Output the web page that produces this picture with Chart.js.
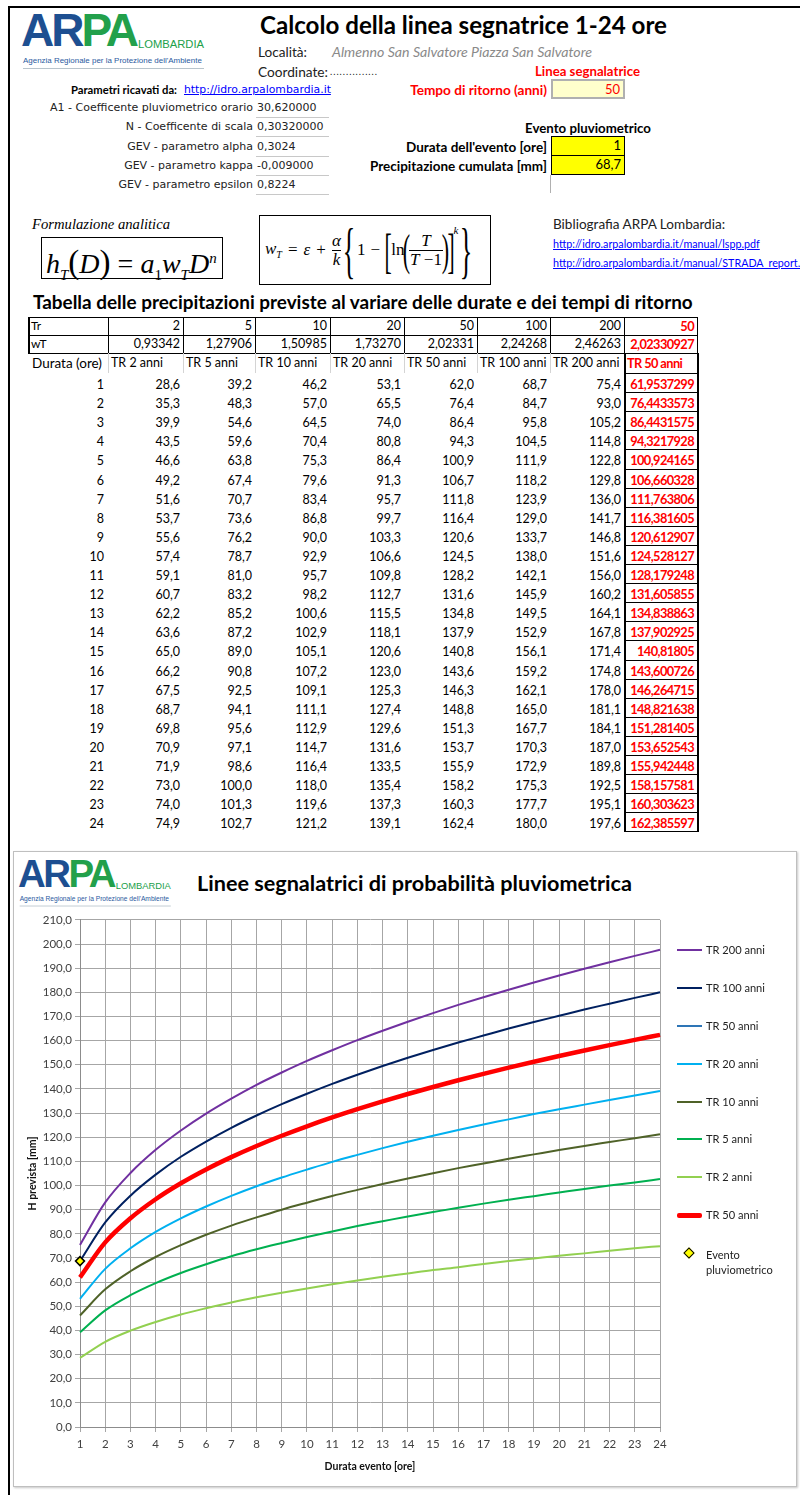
<!DOCTYPE html>
<html>
<head>
<meta charset="utf-8">
<script src="https://cdn.jsdelivr.net/npm/chart.js@4.4.1/dist/chart.umd.min.js"></script>
<style>
body{margin:0;width:800px;height:1495px;overflow:hidden;background:#fff;position:relative;font-family:Lato,"Open Sans",sans-serif;color:#000}
.a{position:absolute;white-space:nowrap}
.c{position:absolute;box-sizing:border-box;white-space:nowrap;overflow:hidden}
.logo{position:absolute;width:190px;height:60px;transform-origin:0 0}
.logo .big{position:absolute;left:0;top:-9px;font-family:"Liberation Sans",sans-serif;font-weight:bold;font-size:46px;letter-spacing:-3px;line-height:56px}
.logo .lomb{position:absolute;left:117px;top:27px;font-family:"Liberation Sans",sans-serif;font-size:9.5px;line-height:12px;color:#22a04b}
.logo .sub{position:absolute;left:2px;top:45px;font-family:"Liberation Sans",sans-serif;font-size:7.3px;line-height:10px;color:#2a5aa0}
.logo .rule{position:absolute;left:2px;top:57px;width:181px;height:1px;background:#b8c4cc}
.par{font-family:"DejaVu Sans",sans-serif;font-size:10.5px;color:#222;line-height:14px}
.lnk{color:#0000ff;text-decoration:underline}
.b{font-weight:bold}
.red{color:#ff0000}
.t16{line-height:16px;font-size:13px}
.box{position:absolute;box-sizing:border-box;text-align:right;padding-right:3px;font-size:13px;line-height:17px}
.serif{font-family:"Liberation Serif",serif}
.frac{display:inline-flex;flex-direction:column;align-items:center;vertical-align:middle;line-height:1.05}
.frac>span:last-child{border-top:1px solid #000;padding:0 1px}
.dl{display:inline-block;vertical-align:middle}
.leg{position:absolute;font-size:11.5px;color:#222;line-height:14px}
.legline{position:absolute}
</style>
</head>
<body>
<!-- cornice del foglio -->
<div class="a" style="left:8px;top:6px;width:792px;height:1489px;border-left:2px solid #000;border-top:2px solid #000"></div>

<div class="logo" id="logo1" style="left:21px;top:11px">
  <div class="big"><span style="color:#1d4f91">AR</span><span style="color:#22a04b">PA</span></div>
  <div class="lomb" data-w="66">LOMBARDIA</div>
  <div class="sub" data-w="179">Agenzia Regionale per la Protezione dell'Ambiente</div>
  <div class="rule"></div>
</div>

<div class="a b" data-w="407" style="left:260px;top:11px;font-size:24px;line-height:28px">Calcolo della linea segnatrice 1-24 ore</div>
<div class="a t16" data-w="49" style="left:258px;top:44px;color:#222">Località:</div>
<div class="a t16" data-w="260" style="left:332px;top:44px;color:#8a8a8a;font-style:italic">Almenno San Salvatore Piazza San Salvatore</div>
<div class="a t16" data-w="70" style="left:258px;top:64px;color:#222">Coordinate:</div>
<div class="a" data-w="48" style="left:330px;top:64px;line-height:16px;font-size:9px;letter-spacing:1px;color:#222">...............</div>
<div class="a b red t16" data-w="105" style="left:535px;top:63px">Linea segnalatrice</div>

<div class="a b" data-w="106" style="left:71px;top:83px;font-size:10px;line-height:14px">Parametri ricavati da:</div>
<div class="a par lnk" data-w="147" style="left:184px;top:83px">http://idro.arpalombardia.it</div>
<div class="a b red t16" data-w="137" style="right:253px;top:82px">Tempo di ritorno (anni)</div>
<div class="box red" style="left:551px;top:79px;width:74px;height:20px;background:#ffffcc;border:2px solid #b0b0b0" id="trSel"></div>

<div id="parametri"></div>

<div class="a b t16" data-w="126" style="left:525px;top:120px">Evento pluviometrico</div>
<div class="a b t16" data-w="141" style="right:253px;top:139px">Durata dell'evento [ore]</div>
<div class="a b t16" data-w="177" style="right:253px;top:158px">Precipitazione cumulata [mm]</div>
<div class="box" style="left:551px;top:136px;width:74px;height:20px;background:#ffff00;border:1px solid #000" id="durEv"></div>
<div class="box" style="left:551px;top:155px;width:74px;height:20px;background:#ffff00;border:1px solid #000" id="pioEv"></div>
<div class="a" style="left:550px;top:175px;width:1px;height:18px;background:#b0b0b0"></div>

<div class="a serif" data-w="138" style="left:32px;top:216px;font-size:13.5px;line-height:16px;font-style:italic">Formulazione analitica</div>
<div class="a serif" style="left:41px;top:237px;width:182px;height:42px;box-sizing:border-box;border:1px solid #000;font-size:28px;line-height:40px;font-style:italic;padding-left:4px">h<sub style="font-size:15px">T</sub><span style="font-style:normal;font-size:33px">(</span>D<span style="font-style:normal;font-size:33px">)</span><span style="font-style:normal"> = </span>a<sub style="font-size:15px;font-style:normal">1</sub>w<sub style="font-size:15px">T</sub>D<sup style="font-size:15px">n</sup></div>

<div class="a serif" style="left:259px;top:215px;width:232px;height:70px;box-sizing:border-box;border:1px solid #000;font-size:17px;display:flex;align-items:center;padding-left:5px">
  <span><i>w</i><sub style="font-size:10px"><i>T</i></sub></span>
  <span style="margin:0 6px">=</span>
  <i>ε</i>
  <span style="margin:0 6px">+</span>
  <span class="frac"><span><i>α</i></span><span><i>k</i></span></span>
  <span class="dl" style="font-size:62px;transform:scaleX(.42);margin:0 -7px;line-height:64px">{</span>
  <span>1</span><span style="margin:0 5px">−</span>
  <span class="dl" style="font-size:48px;transform:scaleX(.45);margin:0 -5px">[</span>
  <span>ln</span>
  <span class="dl" style="font-size:44px;transform:scaleX(.5);margin:0 -5px">(</span>
  <span class="frac"><span><i>T</i></span><span><i>T</i> −1</span></span>
  <span class="dl" style="font-size:44px;transform:scaleX(.5);margin:0 -5px">)</span>
  <span class="dl" style="font-size:48px;transform:scaleX(.45);margin:0 -5px">]</span>
  <sup style="font-size:11px;align-self:flex-start;margin-top:8px"><i>k</i></sup>
  <span class="dl" style="font-size:62px;transform:scaleX(.42);margin:0 -7px;line-height:64px">}</span>
</div>

<div class="a t16" data-w="172" style="left:553px;top:216px;color:#222">Bibliografia ARPA Lombardia:</div>
<div class="a lnk" data-w="207" style="left:553px;top:238px;font-size:10px;line-height:12px">http://idro.arpalombardia.it/manual/lspp.pdf</div>
<div class="a lnk" id="link2" style="left:553px;top:257px;font-size:10px;line-height:12px">http://idro.arpalombardia.it/manual/STRADA_report.pdf</div>

<div class="a b" data-w="660" style="left:33px;top:291px;font-size:18px;line-height:22px">Tabella delle precipitazioni previste al variare delle durate e dei tempi di ritorno</div>
<div id="tabella"></div>

<!-- riquadro grafico -->
<div class="a" style="left:13px;top:851px;width:784px;height:636px;box-sizing:border-box;border:1px solid #bfbfbf;box-shadow:1px 1px 2px #c8c8c8"></div>
<div id="logo2box"></div>
<div class="a b" data-w="435" style="left:197px;top:871px;font-size:21px;line-height:24px">Linee segnalatrici di probabilità pluviometrica</div>
<canvas id="grafico" width="782" height="575" style="position:absolute;left:14px;top:910px"></canvas>
<div id="legenda"></div>

<script>
const durate = [1, 2, 3, 4, 5, 6, 7, 8, 9, 10, 11, 12, 13, 14, 15, 16, 17, 18, 19, 20, 21, 22, 23, 24];
const tempiRitorno = [2, 5, 10, 20, 50, 100, 200];
const wT = ['0,93342', '1,27906', '1,50985', '1,73270', '2,02331', '2,24268', '2,46263'];

const tr2 = [28.6, 35.3, 39.9, 43.5, 46.6, 49.2, 51.6, 53.7, 55.6, 57.4, 59.1, 60.7, 62.2, 63.6, 65.0, 66.2, 67.5, 68.7, 69.8, 70.9, 71.9, 73.0, 74.0, 74.9];
const tr5 = [39.2, 48.3, 54.6, 59.6, 63.8, 67.4, 70.7, 73.6, 76.2, 78.7, 81.0, 83.2, 85.2, 87.2, 89.0, 90.8, 92.5, 94.1, 95.6, 97.1, 98.6, 100.0, 101.3, 102.7];
const tr10 = [46.2, 57.0, 64.5, 70.4, 75.3, 79.6, 83.4, 86.8, 90.0, 92.9, 95.7, 98.2, 100.6, 102.9, 105.1, 107.2, 109.1, 111.1, 112.9, 114.7, 116.4, 118.0, 119.6, 121.2];
const tr20 = [53.1, 65.5, 74.0, 80.8, 86.4, 91.3, 95.7, 99.7, 103.3, 106.6, 109.8, 112.7, 115.5, 118.1, 120.6, 123.0, 125.3, 127.4, 129.6, 131.6, 133.5, 135.4, 137.3, 139.1];
const tr50 = [62.0, 76.4, 86.4, 94.3, 100.9, 106.7, 111.8, 116.4, 120.6, 124.5, 128.2, 131.6, 134.8, 137.9, 140.8, 143.6, 146.3, 148.8, 151.3, 153.7, 155.9, 158.2, 160.3, 162.4];
const tr100 = [68.7, 84.7, 95.8, 104.5, 111.9, 118.2, 123.9, 129.0, 133.7, 138.0, 142.1, 145.9, 149.5, 152.9, 156.1, 159.2, 162.1, 165.0, 167.7, 170.3, 172.9, 175.3, 177.7, 180.0];
const tr200 = [75.4, 93.0, 105.2, 114.8, 122.8, 129.8, 136.0, 141.7, 146.8, 151.6, 156.0, 160.2, 164.1, 167.8, 171.4, 174.8, 178.0, 181.1, 184.1, 187.0, 189.8, 192.5, 195.1, 197.6];

// linea segnalatrice scelta (TR 50), valori non arrotondati
const trScelto = 50;
const wTScelto = '2,02330927';
const lineaScelta = [61.9537299, 76.4433573, 86.4431575, 94.3217928, 100.924165, 106.660328, 111.763806, 116.381605, 120.612907, 124.528127, 128.179248, 131.605855, 134.838863, 137.902925, 140.81805, 143.600726, 146.264715, 148.821638, 151.281405, 153.652543, 155.942448, 158.157581, 160.303623, 162.385597];

const durataEvento = 1;
const pioggiaEvento = 68.7;

const parametri = [
    ['A1 - Coefficente pluviometrico orario', '30,620000'],
    ['N - Coefficente di scala', '0,30320000'],
    ['GEV - parametro alpha', '0,3024'],
    ['GEV - parametro kappa', '-0,009000'],
    ['GEV - parametro epsilon', '0,8224']
];

const fmt1 = v => v.toFixed(1).replace('.', ',');

document.getElementById('trSel').textContent = trScelto;
document.getElementById('durEv').textContent = durataEvento;
document.getElementById('pioEv').textContent = fmt1(pioggiaEvento);

// parametri
let h = '';
parametri.forEach((p, i) => {
    const cy = 108 + i * 19.3;
    h += `<div class="a par" ${i === 0 ? 'id="parA1"' : ''} style="right:547px;top:${cy - 7}px">${p[0]}</div>`;
    h += `<div class="a par" style="left:257px;top:${cy - 7}px">${p[1]}</div>`;
    h += `<div class="a" style="left:256px;top:${cy + 9}px;width:73px;height:1px;background:#c8c8c8"></div>`;
});
document.getElementById('parametri').innerHTML = h;

// dimensione dei caratteri della tabella a partire da larghezze campione
const misura = document.createElement('canvas').getContext('2d');
function corpo(testo, peso, larghezza) {
    misura.font = `${peso} 20px Lato`;
    return 20 * larghezza / misura.measureText(testo).width;
}
const fsNorm = corpo('TR 2 anni', 'normal', 52);
const fsDur = corpo('Durata (ore)', 'normal', 70);

// tabella
const colX = [28, 108, 183, 255, 330, 404, 477, 550, 624, 697];
const serie = [tr2, tr5, tr10, tr20, tr50, tr100, tr200];
let t = '';
function cella(c, top, hgt, txt, stile) {
    const w = colX[c + 1] - colX[c];
    t += `<div class="c" style="left:${colX[c]}px;top:${top}px;width:${w}px;height:${hgt}px;line-height:${hgt}px;font-size:${fsNorm}px;${stile || ''}">${txt}</div>`;
}
function lineaH(x1, x2, y, col, sp) {
    t += `<div class="a" style="left:${x1}px;top:${y}px;width:${x2 - x1}px;height:${sp || 1}px;background:${col}"></div>`;
}
function lineaV(x, y1, y2, col, sp) {
    t += `<div class="a" style="left:${x}px;top:${y1}px;width:${sp || 1}px;height:${y2 - y1}px;background:${col}"></div>`;
}
const dx = 'text-align:right;padding-right:3px;';
const rosso = 'color:#f00;font-weight:bold;font-size:12.8px;letter-spacing:-0.6px;';
cella(0, 317, 18, 'Tr', 'padding-left:3px;font-size:12px');
cella(0, 335, 18, 'wT', 'padding-left:3px;font-size:12px');
tempiRitorno.forEach((tr, i) => {
    cella(i + 1, 317, 18, tr, dx);
    cella(i + 1, 335, 18, wT[i], dx);
});
cella(8, 317, 18, trScelto, dx + rosso);
cella(8, 335, 18, wTScelto, dx + rosso);
cella(0, 353, 20, 'Durata (ore)', `padding-left:4px;font-size:${fsDur}px`);
tempiRitorno.forEach((tr, i) => cella(i + 1, 353, 20, 'TR ' + tr + ' anni', 'padding-left:3px'));
cella(8, 353, 20, 'TR ' + trScelto + ' anni', 'padding-left:3px;' + rosso);
const passo = 19.1;
durate.forEach((d, r) => {
    const top = 373 + r * passo;
    cella(0, top, passo, d, 'text-align:right;padding-right:4px;padding-top:2px');
    serie.forEach((s, i) => cella(i + 1, top, passo, fmt1(s[r]), dx + 'padding-top:2px'));
    cella(8, top, passo, String(lineaScelta[r]).replace('.', ','), dx + rosso + 'padding-top:2px');
    lineaH(624, 698, Math.round(top), '#000');
});
lineaH(624, 698, Math.round(373 + 24 * passo), '#000');
[317, 335, 353].forEach(y => lineaH(28, 698, y, '#000'));
colX.forEach(x => lineaV(x, 317, 353, '#000', x === 28 ? 2 : 1));
colX.slice(1, 8).forEach(x => lineaV(x, 353, 373, '#d4d4d4'));
lineaV(624, 353, Math.round(373 + 24 * passo) + 1, '#000', 2);
lineaV(697, 353, Math.round(373 + 24 * passo) + 1, '#000', 2);
document.getElementById('tabella').innerHTML = t;

// adatta la dimensione dei testi alla larghezza voluta
function adatta(el, larghezza) {
    for (let k = 0; k < 3; k++) {
        const w = el.getBoundingClientRect().width;
        const fs = parseFloat(getComputedStyle(el).fontSize);
        if (w > 0) el.style.fontSize = (fs * larghezza / w) + 'px';
    }
}
document.querySelectorAll('[data-w]').forEach(el => adatta(el, +el.dataset.w));
const a1 = document.getElementById('parA1');
adatta(a1, 203);
document.querySelectorAll('#parametri .par').forEach(el => { el.style.fontSize = a1.style.fontSize; });
document.getElementById('link2').style.fontSize = document.querySelector('[data-w="207"]').style.fontSize;

// secondo logo (riquadro grafico)
const logo2 = document.getElementById('logo1').cloneNode(true);
logo2.id = 'logo2';
logo2.style.left = '18px';
logo2.style.top = '858px';
logo2.style.transform = 'scale(.835)';
document.getElementById('logo2box').appendChild(logo2);

// grafico
const evento = durate.map(d => d === durataEvento ? pioggiaEvento : null);
const serieGrafico = [
    { label: 'TR 200 anni', data: tr200, color: '#7030a0', w: 2 },
    { label: 'TR 100 anni', data: tr100, color: '#002060', w: 2 },
    { label: 'TR 50 anni', data: tr50, color: '#2e75b6', w: 2 },
    { label: 'TR 20 anni', data: tr20, color: '#00b0f0', w: 2 },
    { label: 'TR 10 anni', data: tr10, color: '#4f6228', w: 2 },
    { label: 'TR 5 anni', data: tr5, color: '#00b050', w: 2 },
    { label: 'TR 2 anni', data: tr2, color: '#92d050', w: 2 },
    { label: 'TR ' + trScelto + ' anni', data: lineaScelta, color: '#ff0000', w: 4.5 }
];

const datasets = serieGrafico.map((s, i) => ({
    label: s.label,
    data: s.data,
    borderColor: s.color,
    backgroundColor: s.color,
    borderWidth: s.w,
    pointRadius: 0,
    cubicInterpolationMode: 'monotone',
    order: s.w > 3 ? 1 : 2 + i
}));
datasets.push({
    label: 'Evento pluviometrico',
    data: evento,
    showLine: false,
    pointStyle: 'rectRot',
    pointRadius: 4.5,
    pointBackgroundColor: '#ffff00',
    pointBorderColor: '#000',
    pointBorderWidth: 1.5,
    order: 0
});

// area del grafico voluta (coordinate nel canvas)
const area = { left: 66, top: 12, right: 646, bottom: 517 };
const tickFont = { family: 'Lato', size: 11.5 };
const chart = new Chart(document.getElementById('grafico'), {
    type: 'line',
    data: { labels: durate, datasets },
    options: {
        responsive: false,
        animation: false,
        layout: { padding: { left: 0, right: 130, top: 6, bottom: 0 } },
        plugins: { legend: { display: false }, tooltip: { enabled: false } },
        scales: {
            x: {
                grid: { color: '#a6a6a6', tickLength: 5 },
                border: { color: '#8c8c8c' },
                ticks: { color: '#404040', font: tickFont, padding: 5, maxRotation: 0, autoSkip: false },
                title: { display: true, text: 'Durata evento [ore]', color: '#111', font: { family: 'Lato', size: 10.5, weight: 'bold' }, padding: { top: 4, bottom: 12 } },
                afterFit: s => { s.height = 575 - area.bottom; }
            },
            y: {
                min: 0,
                max: 210,
                grid: { color: '#a6a6a6', tickLength: 5 },
                border: { color: '#8c8c8c' },
                ticks: { stepSize: 10, color: '#404040', font: tickFont, padding: 3, callback: v => fmt1(v) },
                title: { display: true, text: 'H prevista [mm]', color: '#111', font: { family: 'Lato', size: 10.5, weight: 'bold' }, padding: { top: 12, bottom: 0 } },
                afterFit: s => { s.width = area.left; }
            }
        }
    }
});
// ritocco dei margini per far coincidere l'area del grafico
const ca = chart.chartArea;
chart.options.layout.padding = {
    left: 0,
    right: 130 + (ca.right - area.right),
    top: 6 + (area.top - ca.top),
    bottom: 0
};
chart.update();

// legenda
const legY = [950, 988, 1026, 1064, 1102, 1139, 1177, 1215];
let l = '';
serieGrafico.forEach((s, i) => {
    const hh = s.w > 3 ? 5 : 2;
    l += `<div class="legline" style="left:677px;top:${legY[i] - hh / 2}px;width:25px;height:${hh}px;background:${s.color};border-radius:${s.w > 3 ? 2 : 0}px"></div>`;
    l += `<div class="leg" style="left:706px;top:${legY[i] - 7}px">${s.label}</div>`;
});
l += `<div class="a" style="left:685px;top:1249px;width:6px;height:6px;background:#ff0;border:1.5px solid #000;transform:rotate(45deg)"></div>`;
l += `<div class="leg" style="left:706px;top:1247px;line-height:15px">Evento<br>pluviometrico</div>`;
document.getElementById('legenda').innerHTML = l;
const legs = document.querySelectorAll('#legenda .leg');
adatta(legs[0], 59);
legs.forEach(el => { el.style.fontSize = legs[0].style.fontSize; });
</script>
</body>
</html>
